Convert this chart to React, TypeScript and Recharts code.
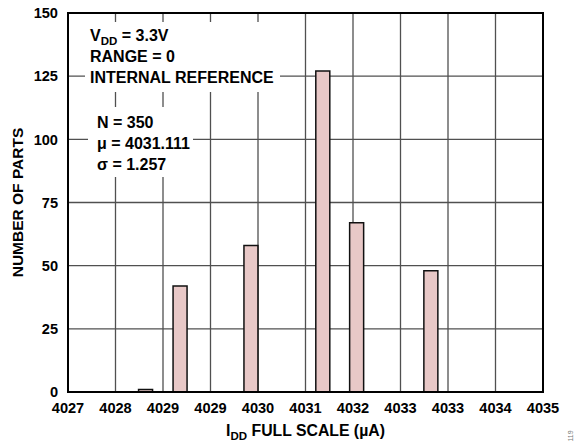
import React from 'react';
import { BarChart, Bar, XAxis, YAxis, CartesianGrid, ReferenceArea } from 'recharts';

const binCenters = [4028.305, 4028.886, 4030.08, 4031.29, 4031.86, 4033.11];
const partCounts = [1, 42, 58, 127, 67, 48];
const xTicks = [4027, 4027.8, 4028.6, 4029.4, 4030.2, 4031, 4031.8, 4032.6, 4033.4, 4034.2, 4035];
const xTickLabels = ['4027', '4028', '4029', '4029', '4030', '4031', '4032', '4033', '4033', '4034', '4035'];
const yTicks = [0, 25, 50, 75, 100, 125, 150];
const statLines = ['N = 350', 'μ = 4031.111', 'σ = 1.257'];
const conditionLines = ['RANGE = 0', 'INTERNAL REFERENCE'];

const data = binCenters.map((x, i) => ({ x, count: partCounts[i] }));

const FONT = '"Liberation Sans", Arial, Helvetica, sans-serif';

const tickStyle = { fontFamily: FONT, fontWeight: 700, fontSize: 14.6, fill: '#000' };

const fmtX = (v: number) => {
  const idx = xTicks.findIndex((t) => Math.abs(t - v) < 1e-6);
  return idx >= 0 ? xTickLabels[idx] : String(Math.round(v));
};

const XLabel = (props: any) => {
  const vb = props.viewBox || {};
  const cx = vb.x + vb.width / 2;
  return (
    <text x={cx} y={436} textAnchor="middle" fontFamily={FONT} fontWeight={700} fontSize={15.8} fill="#000">
      <tspan>I</tspan>
      <tspan dy={4} fontSize={11.5}>DD</tspan>
      <tspan dy={-4}> FULL SCALE (µA)</tspan>
    </text>
  );
};

const YLabel = (props: any) => {
  const vb = props.viewBox || {};
  const cy = vb.y + vb.height / 2;
  return (
    <text
      transform={`translate(23, ${cy}) rotate(-90)`}
      textAnchor="middle"
      fontFamily={FONT}
      fontWeight={700}
      fontSize={15.5}
      fill="#000"
    >
      NUMBER OF PARTS
    </text>
  );
};

export default function App() {
  return (
    <div style={{ position: 'absolute', left: 0, top: 0, width: 575, height: 446, background: '#fff' }}>
      <BarChart
        width={575}
        height={446}
        data={data}
        margin={{ top: 13, right: 32, bottom: 0, left: 0 }}
      >
        <CartesianGrid stroke="#505050" strokeWidth={1.3} />
        <XAxis
          dataKey="x"
          type="number"
          domain={[4027, 4035]}
          ticks={xTicks}
          interval={0}
          tickFormatter={fmtX}
          tick={tickStyle}
          tickLine={false}
          tickSize={0}
          tickMargin={11}
          axisLine={{ stroke: '#000', strokeWidth: 2 }}
          height={54}
          label={{ content: XLabel }}
        />
        <YAxis
          type="number"
          domain={[0, 150]}
          ticks={yTicks}
          interval={0}
          tick={tickStyle}
          tickLine={false}
          tickSize={0}
          tickMargin={10}
          axisLine={{ stroke: '#000', strokeWidth: 2 }}
          width={68}
          label={{ content: YLabel }}
        />
        <Bar
          dataKey="count"
          barSize={14}
          fill="#e8c8c7"
          stroke="#111"
          strokeWidth={1.5}
          isAnimationActive={false}
        />
        <ReferenceArea
          x1={4027}
          x2={4035}
          y1={0}
          y2={150}
          fill="none"
          fillOpacity={0}
          stroke="#000"
          strokeWidth={2}
          ifOverflow="visible"
        />
      </BarChart>
      <svg
        width={575}
        height={446}
        style={{ position: 'absolute', left: 0, top: 0, pointerEvents: 'none' }}
      >
        <rect x={85} y={22} width={195} height={70} fill="#fff" />
        <rect x={88} y={107} width={105} height={70} fill="#fff" />
        <g fontFamily={FONT} fontWeight={700} fontSize={16} fill="#000">
          <text x={90} y={41}>
            <tspan>V</tspan>
            <tspan dy={4} fontSize={11.5}>DD</tspan>
            <tspan dy={-4}> = 3.3V</tspan>
          </text>
          {conditionLines.map((t, i) => (
            <text key={t} x={90} y={62 + i * 21}>
              {t}
            </text>
          ))}
          {statLines.map((t, i) => (
            <text key={t} x={97} y={128 + i * 21}>
              {t}
            </text>
          ))}
        </g>
        <text
          transform="translate(573, 436) rotate(-90)"
          textAnchor="middle"
          fontFamily={FONT}
          fontSize={7}
          fill="#777"
        >
          119
        </text>
      </svg>
    </div>
  );
}
